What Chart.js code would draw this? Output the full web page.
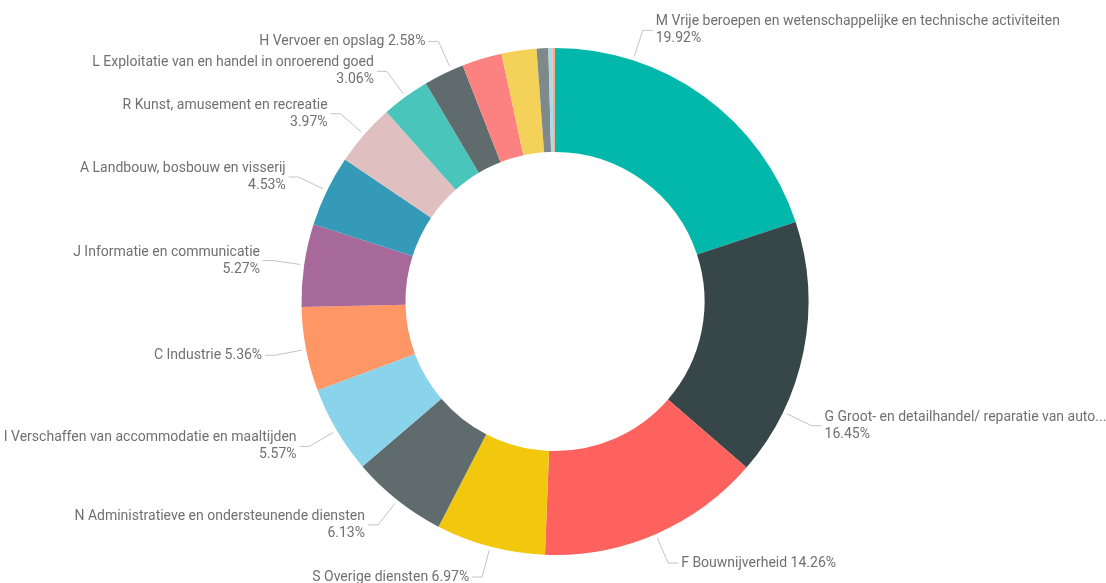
<!DOCTYPE html>
<html>
<head>
<meta charset="utf-8">
<script src="https://cdn.jsdelivr.net/npm/chart.js@4.4.1/dist/chart.umd.min.js"></script>
<style>
    html, body { margin: 0; padding: 0; background: #fff; }
    #wrap { width: 1106px; height: 583px; position: relative; }
</style>
</head>
<body>
<div id="wrap"><canvas id="myChart"></canvas></div>
<script>
// sectoren (SBI) en aandeel in %
var categories = [
    "M Vrije beroepen en wetenschappelijke en technische activiteiten",
    "G Groot- en detailhandel/ reparatie van auto...",
    "F Bouwnijverheid",
    "S Overige diensten",
    "N Administratieve en ondersteunende diensten",
    "I Verschaffen van accommodatie en maaltijden",
    "C Industrie",
    "J Informatie en communicatie",
    "A Landbouw, bosbouw en visserij",
    "R Kunst, amusement en recreatie",
    "L Exploitatie van en handel in onroerend goed",
    "H Vervoer en opslag",
    "Q Gezondheids- en welzijnszorg",
    "P Onderwijs",
    "K Financiële instellingen",
    "E Winning en distributie van water",
    "D Energievoorziening"
];
var shares = [19.92, 16.45, 14.26, 6.97, 6.13, 5.57, 5.36, 5.27, 4.53, 3.97, 3.06, 2.58, 2.54, 2.23, 0.74, 0.25, 0.17];
var colors = ["#01B8AA", "#374649", "#FD625E", "#F2C80F", "#5F6B6D", "#8AD4EB", "#FE9666", "#A66999",
              "#3599B8", "#DFBFBF", "#4AC5BB", "#5F6B6D", "#FB8281", "#F4D25A", "#7F898A", "#A4DDEE", "#FDAB89"];

// labels met leader lines, zoals Power BI
var sliceLabels = {
    id: 'sliceLabels',
    afterDatasetsDraw: function (chart, args, opts) {
        var ctx = chart.ctx;
        var meta = chart.getDatasetMeta(0);
        var data = chart.data.datasets[0].data;
        ctx.save();
        ctx.font = opts.font;
        ctx.textBaseline = 'middle';
        meta.data.forEach(function (arc, i) {
            if (data[i] < opts.minValue) return;
            var frac = opts.anchor[i] !== undefined ? opts.anchor[i] : 0.5;
            var a = arc.startAngle + frac * (arc.endAngle - arc.startAngle);
            var cos = Math.cos(a), sin = Math.sin(a);
            var r0 = arc.outerRadius + 4;
            var r1 = opts.elbowRadius;
            var x0 = arc.x + r0 * cos, y0 = arc.y + r0 * sin;
            var x1 = arc.x + r1 * cos, y1 = arc.y + r1 * sin;
            var right = cos >= 0;
            var x2 = right ? x1 + opts.tail : x1 - opts.tail;

            ctx.strokeStyle = opts.lineColor;
            ctx.lineWidth = 1;
            ctx.beginPath();
            ctx.moveTo(x0, y0);
            ctx.lineTo(x1, y1);
            ctx.lineTo(x2, y1);
            ctx.stroke();

            var name = chart.data.labels[i];
            var pct = data[i].toFixed(2) + '%';
            var tx = right ? x2 + opts.gap : x2 - opts.gap;
            var maxW = right ? chart.width - tx + 4 : tx + 4;
            // inkorten als het niet past
            while (ctx.measureText(name).width > maxW && name.length > 4) {
                name = name.replace(/\.\.\.$/, '').slice(0, -1) + '...';
            }
            var lines = [name + ' ' + pct];
            if (ctx.measureText(lines[0]).width > opts.wrapWidth) lines = [name, pct];

            ctx.fillStyle = opts.color;
            ctx.textAlign = right ? 'left' : 'right';
            var top = y1 - (lines.length - 1) * opts.lineHeight / 2;
            lines.forEach(function (t, k) {
                ctx.fillText(t, tx, top + k * opts.lineHeight);
            });
        });
        ctx.restore();
    }
};

var ctx = document.getElementById('myChart');
var myChart = new Chart(ctx, {
    type: 'doughnut',
    data: {
        labels: categories,
        datasets: [
            {
                data: shares,
                backgroundColor: colors,
                borderWidth: 0,
                hoverOffset: 0
            }
        ]
    },
    options: {
        responsive: true,
        maintainAspectRatio: false,
        animation: false,
        cutout: '59%',
        layout: {
            padding: { top: 48, bottom: 28, left: 300, right: 296 }
        },
        plugins: {
            legend: { display: false },
            tooltip: { enabled: false },
            sliceLabels: {
                font: '14px Roboto',
                color: '#707070',
                lineColor: '#c4c4c4',
                minValue: 2.55,
                elbowRadius: 285,
                tail: 10,
                gap: 3,
                lineHeight: 17,
                wrapWidth: 185,
                anchor: { 0: 0.25, 1: 0.745, 11: 0.7 }
            }
        }
    },
    plugins: [sliceLabels]
});
</script>
</body>
</html>
